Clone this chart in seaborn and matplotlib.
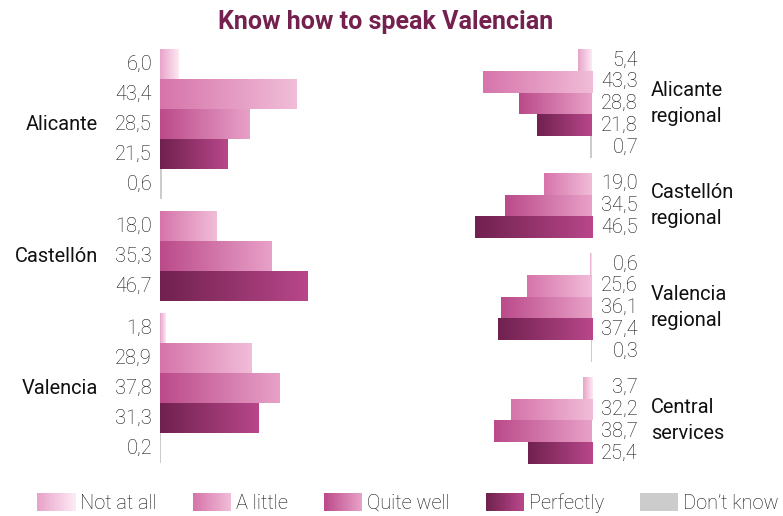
import numpy as np
import pandas as pd
import matplotlib
matplotlib.use("Agg")
import matplotlib.pyplot as plt
from matplotlib.colors import to_rgb
from matplotlib.patches import Patch, Rectangle
from matplotlib.legend_handler import HandlerBase
import seaborn as sns

# --- data -------------------------------------------------------------
levels = ["Not at all", "A little", "Quite well", "Perfectly", "Don’t know"]

left_groups = ["Alicante", "Castellón", "Valencia"]
alicante = [6.0, 43.4, 28.5, 21.5, 0.6]
castellon = [None, 18.0, 35.3, 46.7, None]
valencia = [1.8, 28.9, 37.8, 31.3, 0.2]

right_groups = ["Alicante\nregional", "Castellón\nregional", "Valencia\nregional", "Central\nservices"]
alicante_reg = [5.4, 43.3, 28.8, 21.8, 0.7]
castellon_reg = [None, 19.0, 34.5, 46.5, None]
valencia_reg = [0.6, 25.6, 36.1, 37.4, 0.3]
central = [3.7, 32.2, 38.7, 25.4, None]

# gradient ends (left -> right on screen) for each level
grad = {
    "Not at all": ("#e8a3c9", "#fde9f3"),
    "A little": ("#d674aa", "#f1bdd8"),
    "Quite well": ("#bb4a8a", "#e8a1c8"),
    "Perfectly": ("#70214f", "#b8478a"),
    "Don’t know": ("#cccccc", "#cccccc"),
}
text_col = "#111111"
title_col = "#75214f"


def build_frame(groups, rows, gap):
    recs = []
    centers = []
    start = 0.0
    for g, vals in zip(groups, rows):
        present = [(lv, v) for lv, v in zip(levels, vals) if v is not None]
        for i, (lv, v) in enumerate(present):
            recs.append({"group": g, "level": lv, "value": v, "pos": start + i})
        centers.append(start + (len(present) - 1) / 2)
        start += len(present) + gap
    return pd.DataFrame(recs), centers


def fmt(v):
    return f"{v:.1f}".replace(".", ",")


def draw_panel(ax, df, centers, groups, flip, val_off, cat_off, cat_ha):
    sns.barplot(data=df, x="value", y="pos", hue="level", hue_order=levels,
                palette=[grad[l][0] for l in levels], orient="h", native_scale=True,
                dodge=False, width=1.0, legend=False, ax=ax)
    top = df["pos"].min() - 0.5
    bottom = df["pos"].max() + 0.5
    ax.set_ylim(bottom, top)
    ax.set_xlim((50, 0) if flip else (0, 50))
    ax.axis("off")

    for lv, cont in zip([l for l in levels if l in set(df["level"])], ax.containers):
        c0, c1 = np.array(to_rgb(grad[lv][0])), np.array(to_rgb(grad[lv][1]))
        for bar in cont:
            if lv == "Don’t know":
                bar.set_facecolor(grad[lv][0])
                bar.set_edgecolor("none")
                continue
            t = np.linspace(0, 1, 256)[:, None]
            img = (c0 * (1 - t) + c1 * t)[None, :, :].repeat(2, axis=0)
            x0, x1 = bar.get_x(), bar.get_x() + bar.get_width()
            if flip:
                x0, x1 = x1, x0
            y0, y1 = bar.get_y(), bar.get_y() + bar.get_height()
            im = ax.imshow(img, extent=[x0, x1, y1, y0], aspect="auto",
                           interpolation="bilinear", zorder=2)
            bar.set_facecolor("none")
            bar.set_edgecolor("none")
            im.set_clip_path(bar)

    for _, r in df.iterrows():
        ax.annotate(fmt(r["value"]), xy=(0, r["pos"]), xytext=(val_off, 0),
                    textcoords="offset pixels", ha="right", va="center",
                    fontsize=14.4, fontweight="light", color=text_col,
                    annotation_clip=False)
    for g, c in zip(groups, centers):
        ax.annotate(g, xy=(0, c), xytext=(cat_off, 0), textcoords="offset pixels",
                    ha=cat_ha, va="center", fontsize=14.4, color=text_col,
                    linespacing=1.5, annotation_clip=False)


class GradientHandler(HandlerBase):
    def __init__(self, c0, c1, n=30):
        super().__init__()
        self.c0 = np.array(to_rgb(c0))
        self.c1 = np.array(to_rgb(c1))
        self.n = n

    def create_artists(self, legend, orig_handle, xdescent, ydescent,
                       width, height, fontsize, trans):
        arts = []
        step = width / self.n
        for k in range(self.n):
            t = k / (self.n - 1)
            col = self.c0 * (1 - t) + self.c1 * t
            arts.append(Rectangle((-xdescent + k * step, -ydescent), step * 1.08, height,
                                  facecolor=col, edgecolor="none", transform=trans))
        return arts


sns.set_style("white")
plt.rcParams["font.family"] = ["Roboto", "DejaVu Sans"]

W, H = 783, 516
fig = plt.figure(figsize=(W / 100, H / 100), dpi=100)

# left panel: zero at x=160 px, 3.15 px per unit
ax_l = fig.add_axes([160 / W, 1 - 463 / H, 157.5 / W, 414 / H])
df_l, cen_l = build_frame(left_groups, [alicante, castellon, valencia], gap=0.4)
draw_panel(ax_l, df_l, cen_l, left_groups, flip=False, val_off=-8, cat_off=-62, cat_ha="right")

# right panel: zero at x=592 px, 2.52 px per unit, bars to the left
ax_r = fig.add_axes([466 / W, 1 - 464 / H, 126 / W, 415 / H])
df_r, cen_r = build_frame(right_groups, [alicante_reg, castellon_reg, valencia_reg, central], gap=0.68)
draw_panel(ax_r, df_r, cen_r, right_groups, flip=True, val_off=46, cat_off=59, cat_ha="left")

fig.text(386 / W, 1 - 22 / H, "Know how to speak Valencian", ha="center", va="center",
         fontsize=18, fontweight="bold", color=title_col)

handles = [Patch(label=l) for l in levels]
hmap = {h: GradientHandler(*grad[l]) for h, l in zip(handles, levels)}
fig.legend(handles=handles, labels=levels, handler_map=hmap, ncol=5, loc="center",
           bbox_to_anchor=(408 / W, 1 - 503 / H), frameon=False, borderpad=0,
           handlelength=1.9, handleheight=1.0, handletextpad=0.25, columnspacing=1.8,
           prop={"size": 14.4, "weight": "light"}, labelcolor=text_col)

fig.savefig("out.png", dpi=100)
